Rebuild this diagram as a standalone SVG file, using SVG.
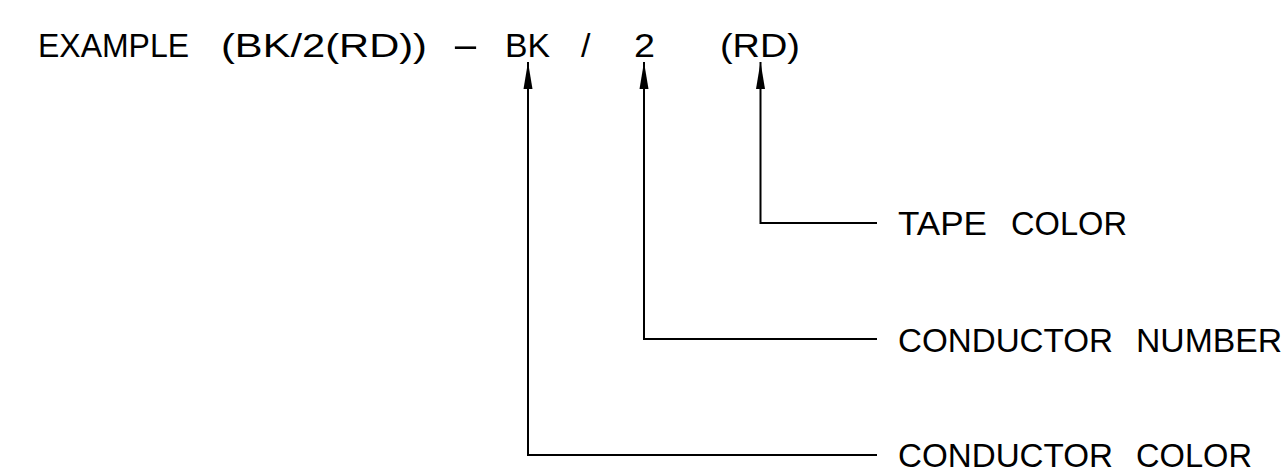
<svg xmlns="http://www.w3.org/2000/svg" width="1283" height="473" viewBox="0 0 1283 473">
<style>
  .t { font-family: "Liberation Sans", Arial, sans-serif; font-size: 34px; fill: #000; }
  .c { fill: none; stroke: #000; stroke-width: 2; }
</style>
<defs>
  <marker id="arrow" markerUnits="userSpaceOnUse" markerWidth="28" markerHeight="10" viewBox="0 0 28 10" refX="27" refY="5" orient="auto">
    <polygon points="27,5 0,0.5 0,9.5" fill="#000"/>
  </marker>
</defs>
<rect width="1283" height="473" fill="#fff"/>
<g id="example">
  <text class="t" y="57"><tspan x="38" textLength="151" lengthAdjust="spacingAndGlyphs">EXAMPLE</tspan> <tspan x="221" textLength="206" lengthAdjust="spacingAndGlyphs">(BK/2(RD))</tspan> <tspan x="451" textLength="29" lengthAdjust="spacingAndGlyphs">-</tspan> <tspan x="505" textLength="45" lengthAdjust="spacingAndGlyphs">BK</tspan> <tspan x="581">/</tspan> <tspan x="634" textLength="21" lengthAdjust="spacingAndGlyphs">2</tspan> <tspan x="720" textLength="80" lengthAdjust="spacingAndGlyphs">(RD)</tspan></text>
</g>
<g id="tape-color">
  <text class="t" y="235"><tspan x="898" textLength="89" lengthAdjust="spacingAndGlyphs">TAPE</tspan> <tspan x="1011" textLength="116" lengthAdjust="spacingAndGlyphs">COLOR</tspan></text>
</g>
<g id="conductor-number">
  <text class="t" y="352"><tspan x="898" textLength="215" lengthAdjust="spacingAndGlyphs">CONDUCTOR</tspan> <tspan x="1136" textLength="146" lengthAdjust="spacingAndGlyphs">NUMBER</tspan></text>
</g>
<g id="conductor-color">
  <text class="t" y="467"><tspan x="898" textLength="215" lengthAdjust="spacingAndGlyphs">CONDUCTOR</tspan> <tspan x="1136" textLength="116" lengthAdjust="spacingAndGlyphs">COLOR</tspan></text>
</g>
<g id="connectors">
  <path class="c" d="M877,223 H760.5 V62" marker-end="url(#arrow)"/>
  <path class="c" d="M877,339 H644 V62" marker-end="url(#arrow)"/>
  <path class="c" d="M877,455 H528 V62" marker-end="url(#arrow)"/>
</g>
</svg>
